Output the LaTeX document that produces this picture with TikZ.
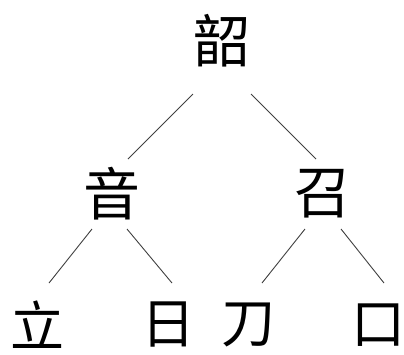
\documentclass[tikz,border=0pt]{standalone}
\usepackage{fontspec}
\newfontfamily\cjk{Noto Sans CJK SC}
\newcommand{\chbox}[1]{\makebox[0.8em]{#1}}
\begin{document}
\begin{tikzpicture}[x=1pt,y=-1pt,
  ch/.style={inner sep=0pt,font=\cjk\fontsize{57}{57}\selectfont},
  leaf/.style={ch,font=\cjk\fontsize{54}{54}\selectfont},
  edge/.style={draw=black!75,line width=0.9pt}]
\useasboundingbox (0,0) rectangle (404,354);
\fill[white] (0,0) rectangle (404,354);
\node[ch] (shao) at (222,41) {\chbox{韶}};
\node[ch] (yin) at (112,194) {\chbox{音}};
\node[ch] (zhao) at (323,194) {\chbox{召}};
\node[leaf] (li) at (37,325) {\chbox{立}};
\node[leaf] (ri) at (168,325) {\chbox{日}};
\node[leaf] (dao) at (248,325) {\chbox{刀}};
\node[leaf] (kou) at (378,325) {\chbox{口}};
\draw[edge] ([shift={(-29,53)}]shao.center) -- ([shift={(16,-35)}]yin.center);
\draw[edge] ([shift={(29,53)}]shao.center) -- ([shift={(-7,-35)}]zhao.center);
\draw[edge] ([shift={(-20,35)}]yin.center) -- ([shift={(12,-42)}]li.center);
\draw[edge] ([shift={(15,35)}]yin.center) -- ([shift={(4,-42)}]ri.center);
\draw[edge] ([shift={(-18,35)}]zhao.center) -- ([shift={(14,-42)}]dao.center);
\draw[edge] ([shift={(18,35)}]zhao.center) -- ([shift={(6,-42)}]kou.center);
\end{tikzpicture}
\end{document}
